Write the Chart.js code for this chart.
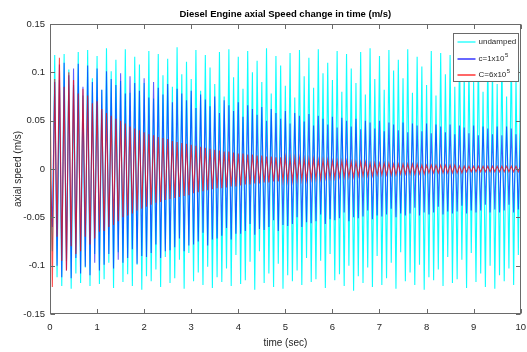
<!DOCTYPE html>
<html>
<head>
<meta charset="utf-8">
<script src="https://cdn.jsdelivr.net/npm/chart.js@4/dist/chart.umd.min.js"></script>
<style>
html,body{margin:0;padding:0;background:#fff;}
canvas{display:block;}
</style>
</head>
<body>
<canvas id="c" width="527" height="352"></canvas>
<script>
// ---- text ----
const TITLE = 'Diesel Engine axial Speed change in time (m/s)';
const X_TITLE = 'time (sec)';
const Y_TITLE = 'axial speed (m/s)';
const SERIES_NAMES = ['undamped', 'c=1x10', 'C=6x10'];
const SERIES_SUPERSCRIPTS = ['', '5', '5'];

// ---- ticks ----
const X_TICKS = [0, 1, 2, 3, 4, 5, 6, 7, 8, 9, 10];
const Y_TICKS = [-0.15, -0.1, -0.05, 0, 0.05, 0.1, 0.15];

// ---- sampling grid (seconds between samples) ----
const SAMPLE_STEP = 0.05;

// ---- series values (m/s) ----
const undamped = [0,
-0.085, 0.118, -0.112, 0.092, -0.121, 0.119, -0.095, 0.103, -0.124, 0.087,
-0.108, 0.121, -0.118, 0.076, -0.102, 0.123, -0.121, 0.094, -0.088, 0.117,
-0.119, 0.082, -0.114, 0.125, -0.097, 0.101, -0.123, 0.113, -0.086, 0.091,
-0.117, 0.124, -0.109, 0.079, -0.121, 0.116, -0.099, 0.108, -0.125, 0.089,
-0.111, 0.122, -0.116, 0.073, -0.104, 0.119, -0.122, 0.097, -0.091, 0.114,
-0.118, 0.085, -0.113, 0.126, -0.094, 0.098, -0.124, 0.111, -0.087, 0.093,
-0.116, 0.123, -0.107, 0.081, -0.12, 0.118, -0.101, 0.105, -0.123, 0.088,
-0.112, 0.121, -0.117, 0.075, -0.103, 0.124, -0.121, 0.095, -0.089, 0.116,
-0.119, 0.083, -0.115, 0.122, -0.096, 0.1, -0.125, 0.112, -0.085, 0.09,
-0.118, 0.125, -0.108, 0.078, -0.122, 0.117, -0.098, 0.107, -0.124, 0.086,
-0.11, 0.12, -0.116, 0.074, -0.105, 0.123, -0.12, 0.096, -0.092, 0.115,
-0.117, 0.084, -0.114, 0.124, -0.095, 0.099, -0.123, 0.11, -0.088, 0.092,
-0.115, 0.122, -0.109, 0.08, -0.121, 0.119, -0.1, 0.104, -0.126, 0.089,
-0.111, 0.121, -0.118, 0.077, -0.102, 0.125, -0.122, 0.093, -0.09, 0.117,
-0.12, 0.082, -0.113, 0.123, -0.097, 0.102, -0.124, 0.113, -0.086, 0.094,
-0.116, 0.124, -0.107, 0.079, -0.12, 0.116, -0.099, 0.106, -0.125, 0.087,
-0.112, 0.122, -0.115, 0.076, -0.104, 0.12, -0.121, 0.098, -0.091, 0.118,
-0.118, 0.085, -0.114, 0.126, -0.094, 0.101, -0.123, 0.111, -0.087, 0.091,
-0.117, 0.123, -0.108, 0.08, -0.122, 0.117, -0.1, 0.107, -0.124, 0.088,
-0.11, 0.121, -0.116, 0.075, -0.103, 0.124, -0.12, 0.095, -0.089, 0.128];

const dampedC1 = [0,
-0.06, 0.09, -0.1, 0.108, -0.112, 0.11, -0.105, 0.097, -0.113, 0.104,
-0.092, 0.109, -0.108, 0.085, -0.101, 0.107, -0.11, 0.09, -0.097, 0.104,
-0.105, 0.082, -0.099, 0.101, -0.088, 0.093, -0.103, 0.087, -0.094, 0.099,
-0.097, 0.078, -0.092, 0.096, -0.083, 0.089, -0.098, 0.081, -0.09, 0.094,
-0.091, 0.074, -0.087, 0.09, -0.078, 0.084, -0.092, 0.077, -0.085, 0.088,
-0.084, 0.069, -0.081, 0.083, -0.072, 0.078, -0.085, 0.071, -0.079, 0.081,
-0.078, 0.063, -0.075, 0.077, -0.066, 0.072, -0.079, 0.065, -0.073, 0.075,
-0.072, 0.058, -0.069, 0.071, -0.061, 0.066, -0.073, 0.06, -0.067, 0.069,
-0.067, 0.054, -0.064, 0.066, -0.057, 0.062, -0.068, 0.056, -0.062, 0.064,
-0.063, 0.05, -0.06, 0.062, -0.053, 0.058, -0.064, 0.052, -0.058, 0.06,
-0.059, 0.047, -0.057, 0.058, -0.05, 0.055, -0.06, 0.049, -0.055, 0.057,
-0.056, 0.045, -0.054, 0.055, -0.047, 0.052, -0.057, 0.046, -0.052, 0.054,
-0.053, 0.043, -0.051, 0.053, -0.045, 0.05, -0.054, 0.044, -0.05, 0.052,
-0.051, 0.041, -0.049, 0.05, -0.043, 0.048, -0.052, 0.042, -0.048, 0.05,
-0.049, 0.039, -0.047, 0.048, -0.041, 0.046, -0.05, 0.04, -0.046, 0.048,
-0.048, 0.038, -0.046, 0.047, -0.04, 0.045, -0.048, 0.039, -0.045, 0.047,
-0.047, 0.037, -0.045, 0.046, -0.039, 0.044, -0.047, 0.038, -0.044, 0.046,
-0.046, 0.036, -0.044, 0.045, -0.038, 0.043, -0.046, 0.037, -0.043, 0.045,
-0.045, 0.035, -0.043, 0.044, -0.037, 0.042, -0.045, 0.036, -0.042, 0.044,
-0.045, 0.035, -0.043, 0.044, -0.037, 0.042, -0.045, 0.036, -0.042, 0.044];

const dampedC6 = [0.088,
-0.122, 0.093, -0.07, 0.115, -0.095, 0.085, -0.105, 0.1, -0.08, 0.092,
-0.088, 0.078, -0.085, 0.083, -0.07, 0.076, -0.078, 0.068, -0.072, 0.07,
-0.065, 0.062, -0.064, 0.058, -0.06, 0.055, -0.058, 0.052, -0.054, 0.05,
-0.05, 0.047, -0.048, 0.044, -0.046, 0.042, -0.043, 0.04, -0.041, 0.038,
-0.039, 0.036, -0.037, 0.035, -0.035, 0.033, -0.034, 0.032, -0.032, 0.031,
-0.031, 0.029, -0.03, 0.028, -0.029, 0.027, -0.028, 0.026, -0.027, 0.025,
-0.025, 0.024, -0.024, 0.023, -0.023, 0.022, -0.022, 0.021, -0.021, 0.02,
-0.02, 0.019, -0.02, 0.018, -0.019, 0.018, -0.018, 0.017, -0.018, 0.016,
-0.017, 0.016, -0.016, 0.015, -0.016, 0.015, -0.015, 0.014, -0.015, 0.014,
-0.014, 0.013, -0.014, 0.013, -0.013, 0.012, -0.013, 0.012, -0.012, 0.012,
-0.012, 0.011, -0.012, 0.011, -0.011, 0.011, -0.011, 0.01, -0.011, 0.01,
-0.01, 0.01, -0.01, 0.009, -0.01, 0.009, -0.009, 0.009, -0.009, 0.008,
-0.009, 0.008, -0.008, 0.008, -0.008, 0.008, -0.008, 0.007, -0.008, 0.007,
-0.007, 0.007, -0.007, 0.007, -0.007, 0.006, -0.007, 0.006, -0.006, 0.006,
-0.006, 0.006, -0.006, 0.006, -0.006, 0.005, -0.006, 0.005, -0.005, 0.005,
-0.005, 0.005, -0.005, 0.005, -0.005, 0.005, -0.005, 0.004, -0.005, 0.004,
-0.004, 0.004, -0.004, 0.004, -0.004, 0.004, -0.004, 0.004, -0.004, 0.004,
-0.004, 0.004, -0.004, 0.003, -0.004, 0.003, -0.003, 0.003, -0.003, 0.003,
-0.003, 0.003, -0.003, 0.003, -0.003, 0.003, -0.003, 0.003, -0.003, 0.003,
-0.003, 0.003, -0.003, 0.003, -0.003, 0.003, -0.003, 0.003, -0.003, 0.003];

// ---- styling ----
const FONT = "'Liberation Sans', Arial, sans-serif";
const TEXT_COLOR = '#262626';
const AXIS_COLOR = '#6a6a6a';
const COLORS = ['#00ffff', '#0000ff', '#ff0000'];
const LINE_COLORS = ['rgba(0,255,255,0.95)', 'rgba(0,0,255,0.62)', 'rgba(255,0,0,0.7)'];

function toPoints(vals) {
  return vals.map((v, i) => ({ x: i * SAMPLE_STEP, y: v }));
}

const axesBox = {
  id: 'axesBox',
  afterDatasetsDraw(chart) {
    const { ctx, chartArea: a, scales: { x, y } } = chart;
    const L = Math.round(a.left) + 0.5, R = Math.round(a.right) - 0.5;
    const T = Math.round(a.top) + 0.5, B = Math.round(a.bottom) - 0.5;
    ctx.save();
    ctx.strokeStyle = AXIS_COLOR;
    ctx.lineWidth = 1;
    ctx.strokeRect(L, T, R - L, B - T);
    ctx.beginPath();
    x.ticks.forEach(t => {
      const px = Math.round(x.getPixelForValue(t.value)) + 0.5;
      ctx.moveTo(px, B); ctx.lineTo(px, B - 4.5);
      ctx.moveTo(px, T); ctx.lineTo(px, T + 4.5);
    });
    y.ticks.forEach(t => {
      const py = Math.round(y.getPixelForValue(t.value)) + 0.5;
      ctx.moveTo(L, py); ctx.lineTo(L + 4.5, py);
      ctx.moveTo(R, py); ctx.lineTo(R - 4.5, py);
    });
    ctx.stroke();
    ctx.restore();
  }
};

const boxLegend = {
  id: 'boxLegend',
  afterDraw(chart) {
    const { ctx, chartArea: a } = chart;
    const bw = 65, bh = 48;
    const bx = Math.round(a.right) - 68 + 0.5, by = Math.round(a.top) + 9 + 0.5;
    ctx.save();
    ctx.fillStyle = '#ffffff';
    ctx.fillRect(bx, by, bw, bh);
    ctx.strokeStyle = AXIS_COLOR;
    ctx.lineWidth = 1;
    ctx.strokeRect(bx, by, bw, bh);
    const rowY = [by + 8.5, by + 25, by + 41];
    SERIES_NAMES.forEach((name, i) => {
      const yy = Math.round(rowY[i]);
      ctx.strokeStyle = COLORS[i];
      ctx.lineWidth = 1.2;
      ctx.beginPath();
      ctx.moveTo(bx + 4, yy); ctx.lineTo(bx + 22, yy);
      ctx.stroke();
      ctx.fillStyle = TEXT_COLOR;
      ctx.font = '8px ' + FONT;
      ctx.textBaseline = 'middle';
      ctx.textAlign = 'left';
      const tx = bx + 25;
      ctx.fillText(name, tx, yy);
      if (SERIES_SUPERSCRIPTS[i]) {
        const w = ctx.measureText(name).width;
        ctx.font = '6px ' + FONT;
        ctx.fillText(SERIES_SUPERSCRIPTS[i], tx + w + 0.5, yy - 4);
      }
    });
    ctx.restore();
  }
};

new Chart(document.getElementById('c'), {
  type: 'line',
  data: {
    datasets: [
      { label: SERIES_NAMES[0], data: toPoints(undamped), borderColor: LINE_COLORS[0], order: 3 },
      { label: SERIES_NAMES[1] + SERIES_SUPERSCRIPTS[1], data: toPoints(dampedC1), borderColor: LINE_COLORS[1], order: 2 },
      { label: SERIES_NAMES[2] + SERIES_SUPERSCRIPTS[2], data: toPoints(dampedC6), borderColor: LINE_COLORS[2], order: 1 }
    ]
  },
  options: {
    responsive: false,
    devicePixelRatio: 1,
    animation: false,
    events: [],
    elements: {
      line: { borderWidth: 1.1, tension: 0, fill: false },
      point: { radius: 0 }
    },
    layout: { padding: 0 },
    plugins: {
      legend: { display: false },
      tooltip: { enabled: false },
      title: {
        display: true,
        text: TITLE,
        fullSize: false,
        color: '#000',
        font: { family: FONT, size: 9.5, weight: 'bold' },
        padding: { top: 8.3, bottom: 4.3 }
      }
    },
    scales: {
      x: {
        type: 'linear',
        min: 0, max: 10,
        afterBuildTicks: s => { s.ticks = X_TICKS.map(v => ({ value: v })); },
        afterFit: s => { s.height = 38; s.paddingRight = 6.3; s.paddingLeft = 0; },
        grid: { display: false, drawTicks: false },
        border: { display: false },
        ticks: {
          color: TEXT_COLOR, padding: 8, maxRotation: 0, autoSkip: false,
          font: { family: FONT, size: 9.5 },
          callback: v => String(v)
        },
        title: {
          display: true, text: X_TITLE, color: TEXT_COLOR,
          font: { family: FONT, size: 10 },
          padding: { top: 0, bottom: 3 }
        }
      },
      y: {
        type: 'linear',
        min: -0.15, max: 0.15,
        afterBuildTicks: s => { s.ticks = Y_TICKS.map(v => ({ value: v })); },
        afterFit: s => { s.width = 50; s.paddingTop = 0; s.paddingBottom = 0; },
        grid: { display: false, drawTicks: false },
        border: { display: false },
        ticks: {
          color: TEXT_COLOR, padding: 5, autoSkip: false,
          font: { family: FONT, size: 9.5 },
          callback: v => String(v)
        },
        title: {
          display: true, text: Y_TITLE, color: TEXT_COLOR,
          font: { family: FONT, size: 10 },
          padding: { top: 12, bottom: 0 }
        }
      }
    }
  },
  plugins: [axesBox, boxLegend]
});
</script>
</body>
</html>
